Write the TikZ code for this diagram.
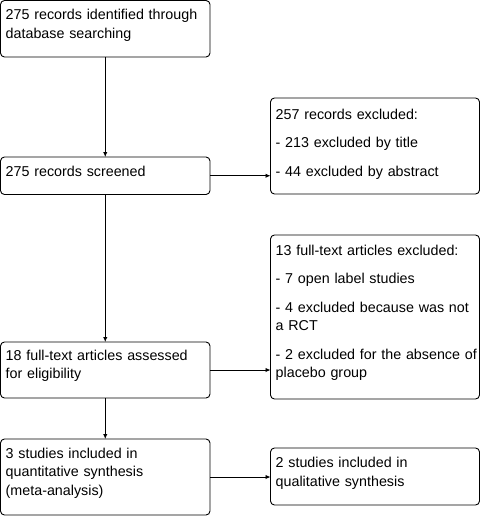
\documentclass[tikz,border=0pt]{standalone}
\usepackage{fontspec}
\setmainfont{Liberation Sans}
\usetikzlibrary{arrows.meta}
\begin{document}
\begin{tikzpicture}[x=1pt,y=-1pt,
  box/.style={draw=black, line width=0.9pt, rounded corners=4pt, anchor=north west,
    inner sep=0pt, outer sep=0pt},
  txt/.style={anchor=base west, inner sep=0pt, text width=205pt, align=left,
    font=\fontsize{14.3}{18.7}\selectfont},
  arr/.style={draw=black, line width=0.9pt, -{Latex[length=5pt,width=4.5pt]}}]
\useasboundingbox (0,0) rectangle (482,516);
% left column
\node[box, minimum width=209.5pt, minimum height=56.5pt] (b1) at (0.5,0.5) {};
\node[box, minimum width=209.5pt, minimum height=37.5pt] (b2) at (0.5,157) {};
\node[box, minimum width=209.5pt, minimum height=56pt] (b3) at (0.5,342) {};
\node[box, minimum width=209.5pt, minimum height=76pt] (b4) at (0.5,439) {};
% right column
\node[box, minimum width=209pt, minimum height=96pt] (e1) at (270.5,98) {};
\node[box, minimum width=209pt, minimum height=164pt] (e2) at (270.5,235) {};
\node[box, minimum width=209pt, minimum height=57pt] (e3) at (270.5,448) {};
% texts
\node[txt] (t1) at (5.5,20) {275 records identified through\\database searching};
\node[txt] (t2) at (5.5,176) {275 records screened};
\node[txt] (t3) at (5.5,360) {18 full-text articles assessed\\for eligibility};
\node[txt] (t4) at (5.5,458) {3 studies included in\\quantitative synthesis\\(meta-analysis)};
\node[txt] (t5) at (275.5,119) {257 records excluded:\\[9.8pt]- 213 excluded by title\\[9.8pt]- 44 excluded by abstract};
\node[txt] (t6) at (275.5,255) {13 full-text articles excluded:\\[9.8pt]- 7 open label studies\\[9.8pt]- 4 excluded because was not\\a RCT\\[9.8pt]- 2 excluded for the absence of\\placebo group};
\node[txt] (t7) at (275.5,467.5) {2 studies included in\\qualitative synthesis};
% arrows
\draw[arr] (b1.south) -- (b2.north);
\draw[arr] (b2.south) -- (b3.north);
\draw[arr] (b3.south) -- (b4.north);
\draw[arr] (b2.east) -- (b2.east -| e1.west);
\draw[arr] (b3.east) -- (b3.east -| e2.west);
\draw[arr] (b4.east) -- (b4.east -| e3.west);
\end{tikzpicture}
\end{document}
